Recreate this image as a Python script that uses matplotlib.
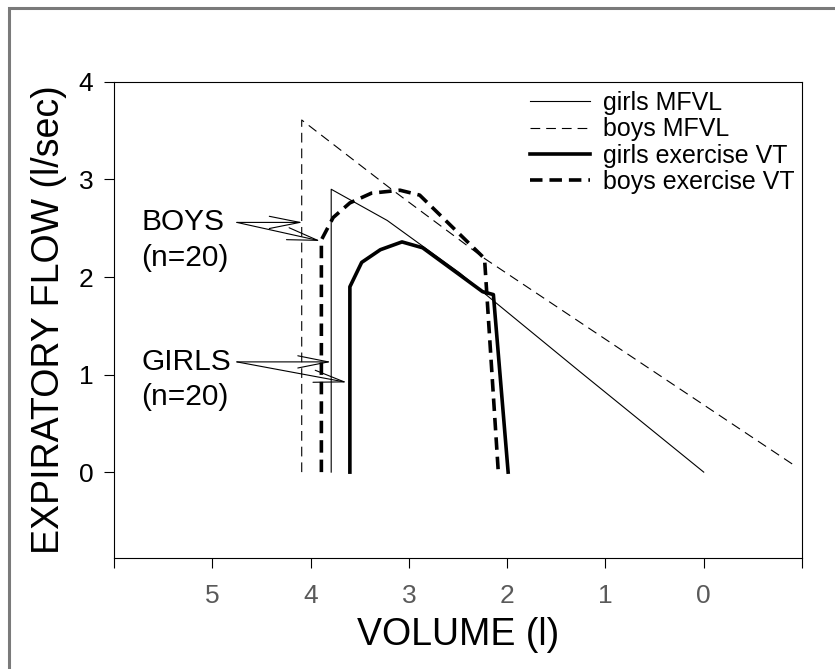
import matplotlib
matplotlib.use('Agg')

import matplotlib.pyplot as plt
from matplotlib.patches import Rectangle

plt.rcParams['font.family'] = ['Liberation Sans', 'DejaVu Sans']
plt.rcParams['lines.scale_dashes'] = False

# volume (l) / flow (l/sec)
girls_mfvl_vol = [3.79, 3.79, 3.22, 2.48, 2.18, 1.26, 0.0]
girls_mfvl_flow = [0.0, 2.90, 2.58, 2.04, 1.79, 1.03, 0.0]

boys_mfvl_vol = [4.09, 4.09, 3.19, 2.23, -0.95]
boys_mfvl_flow = [0.0, 3.61, 2.91, 2.19, 0.05]

girls_vt_vol = [3.60, 3.60, 3.48, 3.29, 3.07, 2.86, 2.48, 2.25, 2.14, 1.99]
girls_vt_flow = [0.0, 1.90, 2.15, 2.28, 2.36, 2.30, 2.02, 1.85, 1.82, 0.0]

boys_vt_vol = [3.89, 3.89, 3.77, 3.60, 3.38, 3.09, 2.89, 2.23, 2.09]
boys_vt_flow = [0.0, 2.38, 2.61, 2.76, 2.86, 2.89, 2.84, 2.19, 0.0]

x_ticks = [6, 5, 4, 3, 2, 1, 0, -1]
x_labels = ['', '5', '4', '3', '2', '1', '0', '']
y_ticks = [0, 1, 2, 3, 4]

fig = plt.figure(figsize=(8.35, 6.69), dpi=100)
ax = fig.add_axes([0.1365, 0.166, 0.824, 0.7115])

ax.plot(girls_mfvl_vol, girls_mfvl_flow, color='black', lw=0.8, label='girls MFVL')
ax.plot(boys_mfvl_vol, boys_mfvl_flow, color='black', lw=0.8, dashes=(7, 4.3), label='boys MFVL')
ax.plot(girls_vt_vol, girls_vt_flow, color='black', lw=2.6, label='girls exercise VT')
ax.plot(boys_vt_vol, boys_vt_flow, color='black', lw=2.6, dashes=(9, 5), label='boys exercise VT')

ax.set_xlim(6, -1)
ax.set_ylim(-0.88, 4)
ax.set_xticks(x_ticks)
ax.set_xticklabels(x_labels)
ax.set_yticks(y_ticks)
ax.tick_params(axis='x', direction='out', length=7, width=0.8, labelsize=19,
               labelcolor='#5a5a5a', pad=12)
ax.tick_params(axis='y', direction='out', length=7, width=0.8, labelsize=19, pad=8)
for sp in ax.spines.values():
    sp.set_linewidth(0.8)

ax.set_xlabel('VOLUME (l)', fontsize=27, labelpad=6)
ax.set_ylabel('EXPIRATORY FLOW (l/sec)', fontsize=27, labelpad=8)

ax.legend(loc='upper right', bbox_to_anchor=(1.0, 0.9965), borderaxespad=0, borderpad=0.3,
          frameon=False, fontsize=18, handlelength=2.4, handletextpad=0.52,
          labelspacing=0.09)

# annotations
arrow = dict(arrowstyle='->, head_length=1.1, head_width=0.22', color='black', lw=0.8,
             mutation_scale=20, shrinkA=0, shrinkB=0)
ax.text(5.725, 2.56, 'BOYS', fontsize=21.5, ha='left', va='center')
ax.text(5.725, 2.20, '(n=20)', fontsize=21.5, ha='left', va='center')
ax.text(5.725, 1.13, 'GIRLS', fontsize=21.5, ha='left', va='center')
ax.text(5.725, 0.77, '(n=20)', fontsize=21.5, ha='left', va='center')
ax.annotate('', xy=(4.08, 2.56), xytext=(4.75, 2.56), arrowprops=arrow)
ax.annotate('', xy=(3.90, 2.37), xytext=(4.75, 2.56), arrowprops=arrow)
ax.annotate('', xy=(3.79, 1.13), xytext=(4.75, 1.13), arrowprops=arrow)
ax.annotate('', xy=(3.63, 0.92), xytext=(4.75, 1.13), arrowprops=arrow)

# grey frame around the figure (right and bottom edges cut off)
fig.add_artist(Rectangle((9 / 835, -0.1), 1.2, 1.1 - 8 / 669, transform=fig.transFigure,
                         fill=False, ec='#7a7a7a', lw=2.2))

fig.savefig('out.png', dpi=100)
